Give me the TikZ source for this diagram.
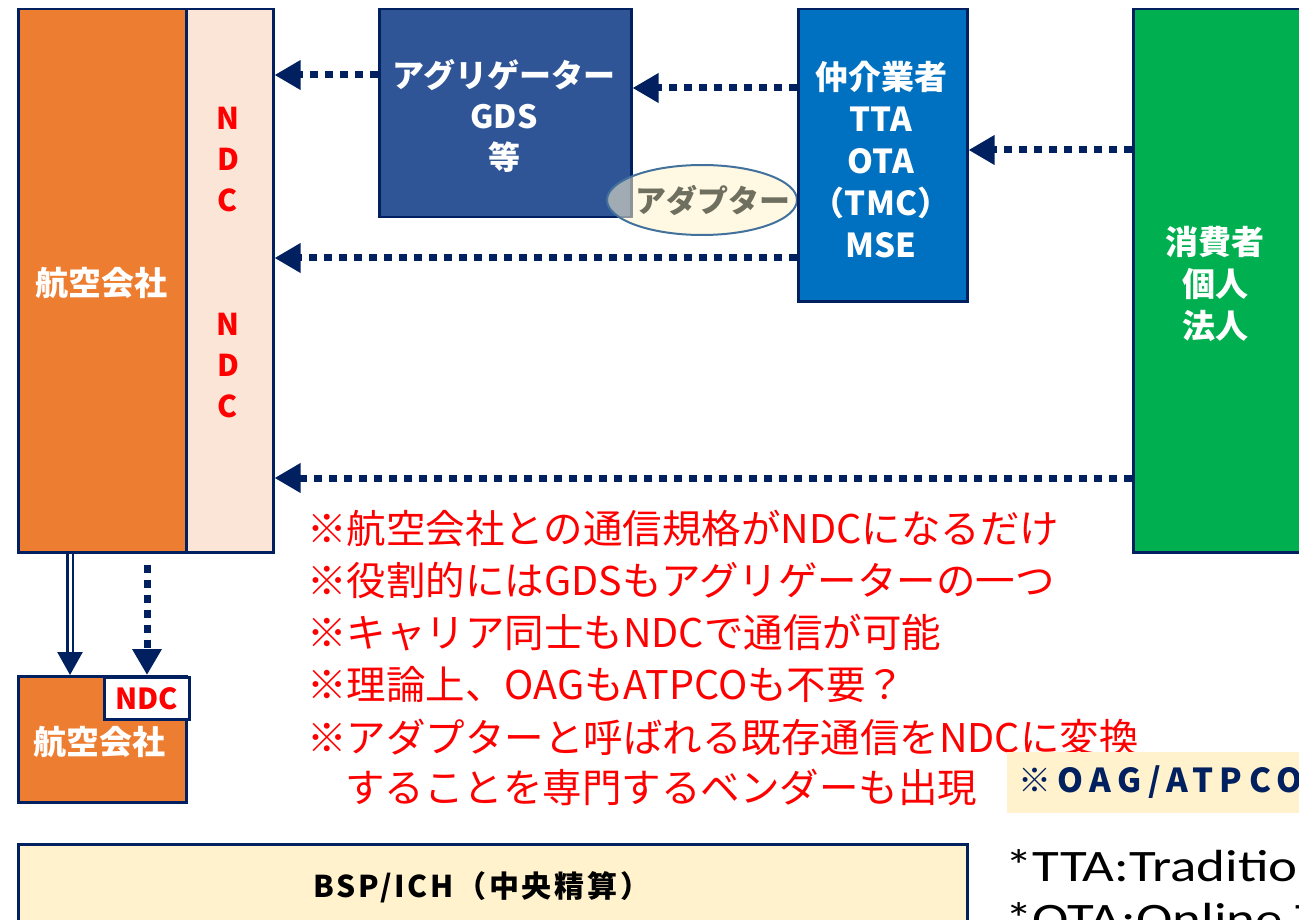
\documentclass[tikz,border=0pt]{standalone}
\usepackage{fontspec}
\setmainfont{Noto Sans CJK JP}
\newfontfamily\calib{Carlito}
\usetikzlibrary{arrows.meta,shapes.geometric}
\definecolor{navy}{HTML}{002060}
\definecolor{orng}{HTML}{ED7D31}
\definecolor{peach}{HTML}{FBE5D6}
\definecolor{aggblue}{HTML}{2F5597}
\definecolor{midblue}{HTML}{0070C0}
\definecolor{grn}{HTML}{00B050}
\definecolor{cream}{HTML}{FFF2CC}
\definecolor{adbord}{HTML}{41719C}
\definecolor{adtext}{HTML}{6F6F60}
\definecolor{red0}{HTML}{FF0000}
\tikzset{
  boxs/.style={draw=navy, line width=2.5pt, inner sep=0pt},
  boxtxt/.style={text=white, font=\fontsize{33}{42}\selectfont\bfseries, align=center},
  ndctxt/.style={text=red0, font=\fontsize{30}{41}\selectfont\bfseries, align=center},
  dotarrow/.style={draw=navy, line width=7pt, dash pattern=on 8pt off 7pt, -{Triangle[length=26pt,width=28pt]}},
  notetxt/.style={text=red0, font=\fontsize{39.5}{52}\selectfont, anchor=west, inner sep=0pt},
}
\begin{document}
\begin{tikzpicture}[x=1pt,y=-1pt]
\useasboundingbox (0,0) rectangle (1299,920);
\clip (0,0) rectangle (1299,920);
% main airline + NDC strip
\node[boxs, fill=orng, minimum width=168pt, minimum height=543pt, anchor=north west] (air) at (17,8) {};
\node[boxtxt] at (101,283) {航空会社};
\node[boxs, fill=peach, minimum width=87pt, minimum height=543pt, anchor=north west] (ndc) at (185,8) {};
\node[ndctxt] (ndct1) at (228,160) {N\\D\\C};
\node[ndctxt] (ndct2) at (228,366) {N\\D\\C};
% aggregator
\node[boxs, fill=aggblue, minimum width=252pt, minimum height=208pt, anchor=north west] (agg) at (378,8) {};
\node[boxtxt, font=\fontsize{32}{41}\selectfont\bfseries] at (504,116) {アグリゲーター\\GDS\\等};
% adapter
\node[ellipse, draw=adbord, line width=2pt, fill=cream, fill opacity=0.55, minimum width=190pt, minimum height=70pt, inner sep=0pt] (adp) at (702,200) {};
\node[text=adtext, font=\fontsize{31}{36}\selectfont\bfseries, inner sep=0pt] at (713,200) {アダプター};
% intermediary
\node[boxs, fill=midblue, minimum width=169pt, minimum height=292pt, anchor=north west] (inter) at (797,8) {};
\node[boxtxt] at (881,160) {仲介業者\\TTA\\OTA\\（TMC）\\MSE};
% consumer
\node[boxs, fill=grn, minimum width=170pt, minimum height=543pt, anchor=north west] (cons) at (1132,8) {};
\node[boxtxt] at (1215,284) {消費者\\個人\\法人};
% arrows
\draw[dotarrow] (agg.west |- 0,75) -- (ndc.east |- 0,75);
\draw[dotarrow] (inter.west |- 0,88) -- (agg.east |- 0,88);
\draw[dotarrow] (cons.west |- 0,150) -- (inter.east |- 0,150);
\draw[dotarrow] (inter.west |- 0,258) -- (ndc.east |- 0,258);
\draw[dotarrow] (cons.west |- 0,478) -- (ndc.east |- 0,478);
% small airline
\node[boxs, fill=orng, minimum width=168pt, minimum height=126pt, anchor=north west] (air2) at (17,675) {};
\node[text=white, font=\fontsize{33}{36}\selectfont\bfseries] at (100,742) {航空会社};
\node[boxs, fill=white, minimum width=85pt, minimum height=42pt, anchor=north west, text=red0, font=\fontsize{29}{30}\selectfont\bfseries] (ndc2) at (103,676) {NDC};
\draw[navy, line width=2.5pt, double=white, double distance=3pt, -{Triangle[length=23pt,width=25pt]}] (air.south -| 70,0) -- (air2.north -| 70,0);
\draw[dotarrow, shorten <=11pt] (air.south -| 147,0) -- (air2.north -| 147,0);
% notes
\node[notetxt] (n1) at (307,528) {※航空会社との通信規格がNDCになるだけ};
\node[notetxt] (n2) at (307,580) {※役割的にはGDSもアグリゲーターの一つ};
\node[notetxt] (n3) at (307,633) {※キャリア同士もNDCで通信が可能};
\node[notetxt] (n4) at (307,685) {※理論上、OAGもATPCOも不要？};
\node[notetxt] (n5) at (307,737) {※アダプターと呼ばれる既存通信をNDCに変換};
\node[notetxt] (n6) at (345,787) {することを専門するベンダーも出現};
% OAG box
\fill[cream] (1007,752) rectangle (1300,813);
\node[anchor=west, inner sep=0pt, text=navy, font=\fontsize{33}{36}\selectfont\bfseries\addfontfeature{LetterSpace=20}] (oag) at (1018,782) {※OAG/ATPCO};
% BSP
\node[boxs, fill=cream, minimum width=949pt, minimum height=92pt, anchor=north west] (bsp) at (17,843) {};
\node[font=\fontsize{30}{32}\selectfont\bfseries\addfontfeature{LetterSpace=9}, text=black] at (482,887) {BSP/ICH（中央精算）};
% footnotes
\node[anchor=base west, inner sep=0pt, font=\calib\fontsize{45}{50}\selectfont] (f1) at (1005,881) {\scalebox{1.22}[1]{*TTA:Traditio}};
\node[anchor=base west, inner sep=0pt, font=\calib\fontsize{45}{50}\selectfont] (f2) at (1005,934) {\scalebox{1.22}[1]{*OTA:Online T}};
\end{tikzpicture}
\end{document}
